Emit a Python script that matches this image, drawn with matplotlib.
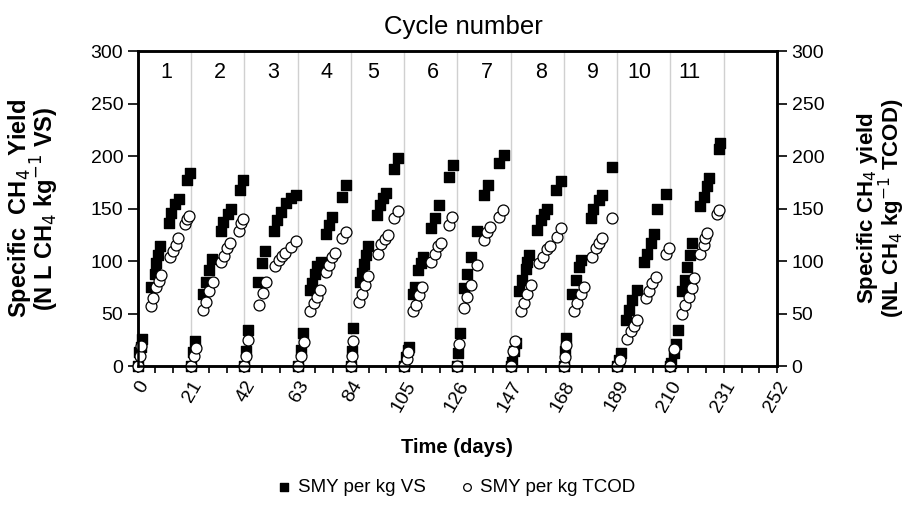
"""
Specific methane yield over 11 feeding cycles
"""
import matplotlib
matplotlib.use("Agg")
import matplotlib.pyplot as plt
from matplotlib.ticker import MultipleLocator

plt.rcParams['font.family'] = ['Liberation Sans', 'DejaVu Sans']

# SMY per kg VS (filled squares), grouped by cycle
vs_days = [0, 0.6, 1.1, 1.6, 5.4, 6.7, 7.4, 8.0, 8.7, 12.3, 13.3, 14.7, 16.2, 19.4, 20.6,
           21, 21.9, 22.6, 25.9, 27.0, 28.2, 29.4, 32.8, 33.8, 35.4, 36.6, 40.2, 41.4,
           42, 42.8, 43.6, 47.3, 49.0, 50.2, 53.6, 55.0, 56.6, 58.4, 60.6, 62.4,
           63, 64.2, 65.3, 68.1, 68.7, 69.9, 70.8, 72.1, 74.1, 75.3, 76.6, 80.5, 82.1,
           84, 84.3, 85.0, 87.8, 88.4, 89.2, 90.0, 90.8, 94.4, 95.4, 96.8, 97.9, 101.2, 102.6,
           105, 105.8, 106.4, 107.0, 108.4, 109.2, 110.4, 111.5, 112.6, 115.7, 117.0, 118.8, 122.8, 124.2,
           126, 126.4, 127.0, 128.6, 129.9, 131.2, 133.9, 136.5, 138.0, 142.4, 144.4,
           147, 147.6, 148.3, 149.0, 150.3, 151.6, 152.9, 153.6, 154.2, 157.5, 158.8, 160.1, 161.4, 164.7, 166.7,
           168, 168.5, 169.0, 171.3, 172.6, 173.9, 174.9, 178.5, 179.5, 181.8, 183.0, 187.0,
           189, 189.8, 190.6, 192.3, 193.6, 194.9, 196.9, 199.5, 200.8, 202.2, 203.5, 204.8, 208.1,
           210, 210.4, 211.5, 212.2, 212.9, 214.6, 215.9, 216.5, 217.8, 218.5, 221.8, 223.1, 224.4, 225.0, 229.0, 229.6]
vs_vals = [0, 13, 18, 26, 75, 88, 98, 106, 114, 136, 146, 154, 159, 177, 184,
           0, 13, 24, 69, 80, 91, 102, 129, 137, 145, 150, 168, 177,
           0, 14, 34, 80, 98, 110, 129, 139, 147, 155, 160, 163,
           0, 15, 31, 72, 79, 88, 95, 99, 126, 134, 142, 161, 172,
           0, 14, 36, 80, 89, 97, 106, 114, 144, 153, 160, 165, 188, 198,
           0, 9, 15, 18, 69, 75, 91, 98, 104, 131, 141, 153, 180, 191,
           0, 12, 31, 74, 88, 104, 129, 163, 172, 193, 201,
           0, 4, 14, 22, 71, 82, 92, 99, 106, 130, 139, 145, 150, 168, 176,
           0, 14, 27, 69, 82, 94, 101, 141, 150, 158, 163, 190,
           0, 6, 12, 44, 53, 63, 72, 99, 107, 117, 126, 150, 164,
           0, 3, 12, 21, 34, 71, 82, 94, 106, 117, 152, 161, 171, 179, 207, 212]

# SMY per kg TCOD (open circles), grouped by cycle
tcod_days = [0, 0.8, 1.3, 5.4, 5.9, 7.4, 8.4, 9.0, 12.7, 13.9, 15.2, 16.0, 18.6, 19.6, 20.4,
             21, 22.2, 22.8, 25.9, 26.9, 28.2, 29.5, 32.9, 34.0, 35.2, 36.2, 39.8, 40.6, 41.4,
             42, 42.8, 43.6, 47.7, 49.3, 50.6, 54.3, 55.6, 57.0, 58.2, 60.6, 62.2,
             63, 64.4, 65.4, 68.1, 69.3, 70.6, 71.9, 74.1, 75.3, 76.6, 77.9, 80.7, 82.2,
             84, 84.4, 85.0, 87.3, 88.4, 89.6, 90.9, 94.6, 95.9, 97.3, 98.6, 101.2, 102.6,
             105, 106.0, 106.6, 108.4, 109.6, 110.8, 112.0, 115.7, 117.0, 118.3, 119.5, 122.8, 124.0,
             126, 126.6, 128.6, 129.9, 131.4, 133.9, 136.5, 137.8, 139.0, 142.4, 143.8,
             147, 148.0, 148.8, 151.0, 152.3, 153.6, 154.9, 158.2, 159.9, 161.2, 162.5, 165.4, 166.7,
             168, 168.5, 168.9, 172.0, 173.3, 174.6, 175.9, 179.2, 180.5, 181.8, 183.1, 187.0,
             189, 190.2, 193.0, 194.3, 195.6, 196.9, 200.2, 201.5, 202.8, 204.1, 208.1, 209.4,
             210, 211.3, 214.6, 215.9, 217.2, 218.5, 219.1, 221.8, 223.1, 223.8, 224.4, 228.4, 229.0]
tcod_vals = [0, 10, 19, 57, 65, 75, 81, 87, 104, 110, 115, 122, 135, 140, 143,
             0, 10, 17, 53, 61, 71, 80, 99, 105, 112, 117, 129, 136, 140,
             0, 10, 25, 58, 70, 80, 95, 101, 105, 108, 113, 119,
             0, 10, 23, 52, 60, 66, 72, 90, 96, 104, 108, 122, 128,
             0, 10, 24, 61, 69, 77, 86, 107, 116, 121, 125, 141, 148,
             0, 7, 13, 52, 58, 68, 75, 99, 107, 114, 117, 134, 142,
             0, 21, 55, 66, 77, 96, 120, 128, 132, 142, 149,
             0, 14, 24, 52, 60, 69, 77, 98, 104, 111, 114, 123, 131,
             0, 9, 20, 52, 60, 69, 75, 104, 112, 117, 122, 141,
             0, 6, 26, 33, 38, 44, 65, 71, 79, 85, 107, 112,
             0, 16, 50, 58, 66, 74, 84, 107, 115, 122, 127, 145, 149]

cycle_labels = ['1', '2', '3', '4', '5', '6', '7', '8', '9', '10', '11']
cycle_label_days = [11.4, 32.3, 53.2, 74.5, 92.7, 116.3, 137.6, 158.9, 179.4, 197.9, 217.3]

fig = plt.figure(figsize=(9.12, 5.08), dpi=100)
ax = fig.add_axes([0.151, 0.2795, 0.701, 0.620])

ax.scatter(vs_days, vs_vals, marker='s', s=55, color='black', zorder=3,
           label='SMY per kg VS', clip_on=False)
ax.scatter(tcod_days, tcod_vals, marker='o', s=62, facecolor='white', edgecolor='black',
           linewidth=0.9, zorder=4, label='SMY per kg TCOD', clip_on=False)

ax.set_xlim(0, 252)
ax.set_ylim(0, 300)
ax.xaxis.set_major_locator(MultipleLocator(21))
ax.xaxis.set_minor_locator(MultipleLocator(7))
ax.yaxis.set_major_locator(MultipleLocator(50))
ax.grid(axis='x', which='major', color='#d0d0d0', lw=1.0, zorder=0)

for s in ax.spines.values():
    s.set_linewidth(1.8)

ax.tick_params(axis='x', which='both', direction='out', length=5, width=1.2, labelsize=14)
ax.tick_params(axis='y', direction='out', length=7, width=1.2, labelsize=14)
plt.setp(ax.get_xticklabels(), rotation=60, ha='right', rotation_mode='anchor')

for lbl, d in zip(cycle_labels, cycle_label_days):
    ax.text(d, 280, lbl, ha='center', va='center', fontsize=15.5)

ax.set_xlabel('Time (days)', fontsize=14.5, fontweight='bold', labelpad=17)
ax.set_ylabel('Specific  CH$_4$  Yield\n(N L CH$_4$ kg$^{-1}$ VS)',
              fontsize=17, fontweight='bold', labelpad=21, linespacing=0.85)

ax2 = ax.twinx()
ax2.set_ylim(0, 300)
ax2.yaxis.set_major_locator(MultipleLocator(50))
ax2.tick_params(axis='y', direction='out', length=7, width=1.2, labelsize=14)
ax2.set_ylabel('Specific CH$_4$ yield\n(NL CH$_4$ kg$^{-1}$ TCOD)',
               fontsize=16, fontweight='bold', labelpad=22, linespacing=0.85)
for s in ax2.spines.values():
    s.set_linewidth(1.8)

fig.text(0.508, 0.947, 'Cycle number', ha='center', va='center', fontsize=18.5)

h, l = ax.get_legend_handles_labels()
fig.legend(h, l, loc='center', bbox_to_anchor=(0.50, 0.041), ncol=2, frameon=False,
           fontsize=13.5, handlelength=0.8, handletextpad=0.3, columnspacing=1.8,
           markerscale=0.7)

fig.savefig('out.png', dpi=100)
